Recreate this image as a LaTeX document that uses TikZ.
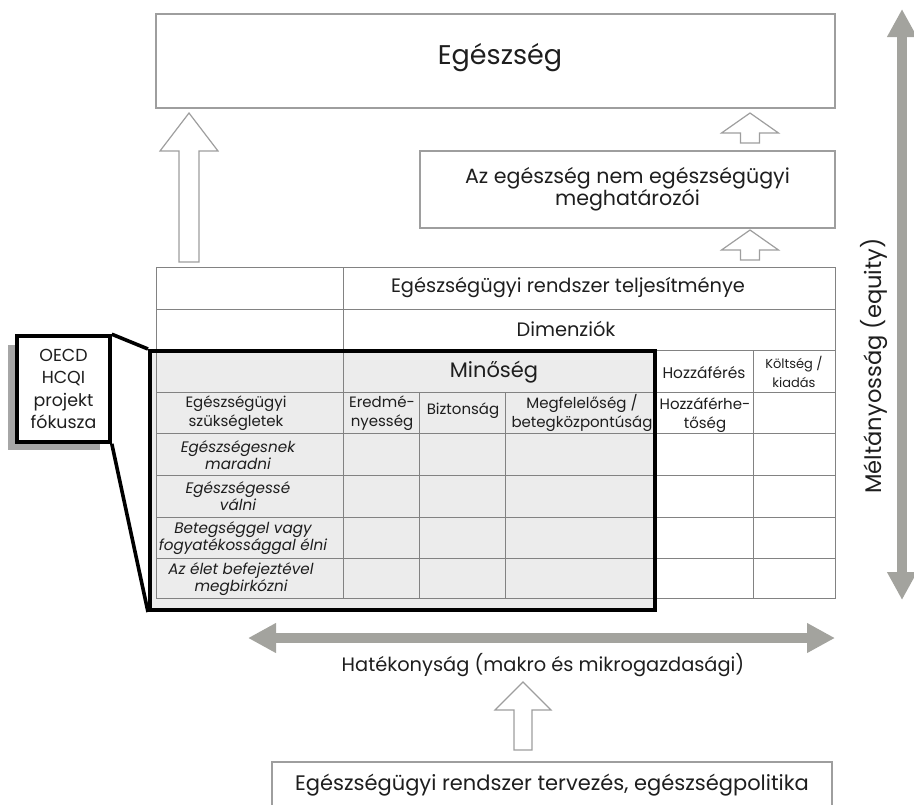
\documentclass[tikz,border=0pt]{standalone}
\usepackage{fontspec}
\setmainfont{Poppins}
\usetikzlibrary{arrows.meta, positioning}

\definecolor{axisgray}{RGB}{163,163,158}
\definecolor{boxgray}{RGB}{158,158,158}
\definecolor{linegray}{RGB}{130,130,130}
\definecolor{focusfill}{RGB}{236,236,236}
\definecolor{shadowgray}{RGB}{166,166,166}
\definecolor{inkgray}{RGB}{30,30,30}

% hollow block arrow: x, y tail, y tip, shaft half width, head half width, head length
\newcommand{\blockarrow}[6]{%
	\draw[hollow] (#1-#4,#2) -- (#1-#4,#3+#6) -- (#1-#5,#3+#6) -- (#1,#3)
		-- (#1+#5,#3+#6) -- (#1+#4,#3+#6) -- (#1+#4,#2) -- cycle;}

\begin{document}
\begin{tikzpicture}[
	x=0.5pt, y=-0.5pt,
	every node/.style={text=inkgray},
	box/.style={draw=boxgray, line width=0.7pt, rectangle, align=center, inner sep=0pt},
	head/.style={font=\fontsize{9.7}{11.5}\selectfont, align=center, inner sep=0pt},
	cell/.style={font=\fontsize{7.5}{9.5}\selectfont, align=center, inner sep=0pt},
	rowlabel/.style={font=\fontsize{7.6}{8.5}\selectfont\itshape, align=center, inner sep=0pt},
	hollow/.style={draw=boxgray, line width=0.6pt, fill=white},
	grid/.style={draw=linegray, line width=0.5pt},
	axis/.style={draw=axisgray, line width=5pt,
		{Triangle[width=14pt,length=14pt]}-{Triangle[width=14pt,length=14pt]}},
	focus/.style={draw=black, line width=2pt, rectangle, inner sep=0pt}
	]
	\useasboundingbox (0,0) rectangle (914,804);

	% ======================
	% oben: Egeszseg
	% ======================
	\node[box, minimum width=339.5pt, minimum height=47pt] (health) at (495.5,61) {};
	\node[font=\fontsize{13.5}{15}\selectfont] (healthtxt) at (500,58) {Egészség};

	\node[box, minimum width=207.5pt, minimum height=38.5pt, font=\fontsize{10.3}{11}\selectfont]
		(determ) at (627.5,189.5) {Az egészség nem egészségügyi\\meghatározói};

	\blockarrow{189}{262}{113}{10}{29}{38}
	\blockarrow{750}{143}{113}{9.5}{28.5}{20}
	\blockarrow{750}{260}{230}{9.5}{28.5}{20}

	% ======================
	% Tabelle
	% ======================
	\fill[focusfill] (150,351) rectangle (655,610);

	\draw[grid] (156,267) rectangle (835,598);
	\foreach \y in {309,350,392,433,475,517,558}
		\draw[grid] (156,\y) -- (835,\y);
	\draw[grid] (343,267) -- (343,598);
	\foreach \x in {419,505}
		\draw[grid] (\x,392) -- (\x,598);
	\foreach \x in {655,753}
		\draw[grid] (\x,350) -- (\x,598);

	\node[head] (perf) at (568,288) {Egészségügyi rendszer teljesítménye};
	\node[head] (dims) at (566,329) {Dimenziók};
	\node[head, font=\fontsize{10.5}{12}\selectfont] (quality) at (494,372) {Minőség};
	\node[cell, font=\fontsize{7.7}{9.5}\selectfont] (access) at (704,373) {Hozzáférés};
	\node[cell, font=\fontsize{6.5}{9.5}\selectfont] (cost) at (794,372) {Költség /\\kiadás};

	\node[cell] (needs) at (236,413) {Egészségügyi\\szükségletek};
	\node[cell] (effect) at (382,413) {Eredmé-\\nyesség};
	\node[cell] (safety) at (463,411) {Biztonság};
	\node[cell] (resp) at (582,413) {Megfelelőség /\\betegközpontúság};
	\node[cell] (avail) at (705,415) {Hozzáférhe-\\tőség};

	\node[rowlabel] (stay) at (238,455) {Egészségesnek\\maradni};
	\node[rowlabel] (get) at (238,496) {Egészségessé\\válni};
	\node[rowlabel] (live) at (243,538) {Betegséggel vagy\\fogyatékossággal élni};
	\node[rowlabel] (cope) at (241,579) {Az élet befejeztével\\megbirkózni};

	% OECD Fokus
	\node[focus, minimum width=252.5pt, minimum height=129.5pt] (fokus) at (402.5,480.5) {};
	\fill[shadowgray] (8,345) rectangle (100,450);
	\node[focus, line width=1.8pt, fill=white, minimum width=46.5pt, minimum height=53pt,
		align=center, font=\fontsize{8.7}{11.2}\selectfont] (oecd) at (63.5,389) {OECD\\HCQI\\projekt\\fókusza};
	\draw[black, line width=1.8pt] (oecd.north east) -- (fokus.north west);
	\draw[black, line width=1.8pt] (oecd.south east) -- (fokus.south west);

	% ======================
	% Achsen
	% ======================
	\coordinate (eqtop) at (902,9);
	\coordinate (eqbot) at (902,600);
	\draw[axis] (eqbot) -- (eqtop);
	\node[rotate=90, font=\fontsize{11.3}{13}\selectfont] (equity) at (874,366) {Méltányosság (equity)};

	\coordinate (efleft) at (248,638);
	\coordinate (efright) at (835,638);
	\draw[axis] (efleft) -- (efright);
	\node[font=\fontsize{9.7}{12}\selectfont] (effic) at (543,665) {Hatékonyság (makro és mikrogazdasági)};

	% unten
	\blockarrow{523}{750}{682}{9}{28}{28}
	\draw[box] (272,812) -- (272,762) -- (832,762) -- (832,812);
	\node[font=\fontsize{10.5}{12}\selectfont] (design) at (552,785) {Egészségügyi rendszer tervezés, egészségpolitika};

\end{tikzpicture}
\end{document}
